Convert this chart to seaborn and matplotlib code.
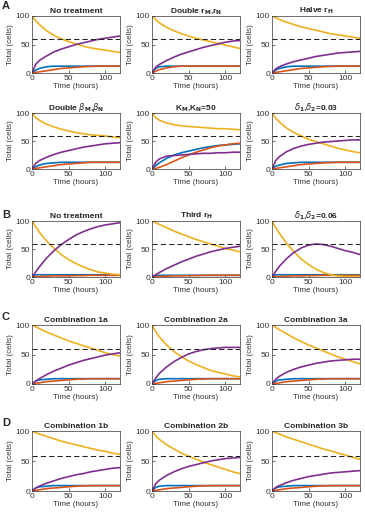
import numpy as np
import pandas as pd
import matplotlib
matplotlib.use("Agg")
import matplotlib.pyplot as plt
import seaborn as sns

t = [0, 5, 10, 20, 30, 40, 50, 60, 70, 80, 90, 100, 110, 120]

titles = [
    "No treatment", r"Double r$_\mathbf{M}$,r$_\mathbf{N}$", r"Halve r$_\mathbf{H}$",
    r"Double $\beta_\mathbf{M}$,$\beta_\mathbf{N}$", r"K$_\mathbf{M}$,K$_\mathbf{N}$=50",
    r"$\delta_\mathbf{1}$,$\delta_\mathbf{2}$=0.03",
    "No treatment", r"Third r$_\mathbf{H}$", r"$\delta_\mathbf{1}$,$\delta_\mathbf{2}$=0.06",
    "Combination 1a", "Combination 2a", "Combination 3a",
    "Combination 1b", "Combination 2b", "Combination 3b",
]

yellow = [
    [100, 92, 85, 74, 66, 60, 55, 51, 47, 44, 42, 40, 38, 36],
    [100, 94, 88, 80, 74, 69, 65, 61, 58, 55, 52, 49, 46, 43],
    [100, 97, 94, 89, 85, 81, 78, 75, 72, 69, 67, 65, 63, 61],
    [100, 92, 87, 80, 75, 71, 68, 65, 63, 61, 60, 59, 57, 56],
    [100, 92, 87, 82, 79, 77, 76, 75, 74, 73, 72, 72, 71, 70],
    [100, 91, 84, 73, 65, 59, 53, 49, 45, 41, 37, 34, 31, 29],
    [100, 90, 80, 64, 51, 40, 31, 24, 18, 13, 9, 7, 5, 4],
    [100, 97, 94, 88, 82, 77, 72, 67, 63, 59, 55, 51, 48, 45],
    [100, 88, 78, 60, 45, 32, 22, 14, 8, 4, 2, 1, 1, 0.5],
    [100, 97, 94, 88, 83, 78, 73, 69, 65, 61, 57, 53, 50, 47],
    [100, 89, 80, 66, 55, 46, 39, 33, 28, 23, 20, 17, 14, 12],
    [100, 96, 92, 85, 78, 72, 66, 61, 56, 51, 46, 42, 38, 34],
    [100, 97, 95, 91, 87, 83, 80, 77, 74, 71, 68, 66, 63, 61],
    [100, 92, 86, 77, 70, 63, 58, 53, 48, 44, 40, 36, 32, 29],
    [100, 97, 95, 90, 86, 82, 78, 74, 70, 67, 63, 60, 56, 53],
]

purple = [
    [0, 15, 22, 30, 37, 42, 46, 50, 53, 56, 59, 61, 63, 65],
    [0, 10, 15, 22, 28, 33, 37, 41, 45, 48, 51, 54, 56, 57],
    [0, 7, 11, 16, 20, 23, 26, 29, 31, 33, 35, 36, 37, 38],
    [0, 10, 15, 21, 26, 30, 33, 36, 39, 41, 43, 45, 46, 47],
    [0, 12, 18, 23, 24, 25, 26, 27, 28, 28, 29, 29, 30, 30],
    [0, 15, 22, 31, 37, 41, 44, 46, 48, 49, 50, 51, 52, 52],
    [0, 9, 18, 34, 47, 58, 67, 75, 81, 86, 90, 93, 95, 97],
    [0, 4, 8, 15, 21, 27, 32, 37, 41, 45, 48, 51, 53, 55],
    [0, 10, 19, 33, 44, 52, 57, 59, 58, 55, 51, 47, 44, 40],
    [0, 5, 9, 16, 22, 27, 32, 36, 40, 43, 46, 49, 51, 53],
    [0, 10, 18, 29, 38, 45, 51, 55, 58, 60, 61, 62, 62, 62],
    [0, 8, 13, 20, 25, 29, 32, 35, 37, 39, 40, 41, 42, 42],
    [0, 5, 8, 13, 17, 21, 24, 27, 29, 32, 34, 36, 38, 39],
    [0, 12, 18, 26, 32, 37, 41, 44, 47, 50, 52, 54, 55, 56],
    [0, 6, 9, 14, 18, 21, 24, 26, 28, 30, 31, 32, 33, 34],
]

blue = [
    [0, 5, 8, 11, 12, 12, 12, 12, 12, 12, 12, 12, 12, 12],
    [0, 8, 11, 12, 12, 12, 12, 12, 12, 12, 12, 12, 12, 12],
    [0, 5, 8, 11, 12, 12, 12, 12, 12, 12, 12, 12, 12, 12],
    [0, 4, 7, 10, 11, 12, 12, 12, 12, 12, 12, 12, 12, 12],
    [0, 6, 11, 19, 25, 29, 32, 35, 38, 40, 42, 43, 44, 45],
    [0, 5, 7, 10, 11, 12, 12, 12, 12, 12, 12, 12, 12, 12],
    [0, 4, 4, 4, 4, 4, 4, 4, 4, 4, 4, 4, 4, 4],
    [0, 3, 3, 3, 3, 3, 3, 3, 3, 3, 3, 3, 3, 3],
    [0, 4, 4, 4, 4, 4, 4, 4, 4, 4, 4, 4, 4, 4],
    [0, 5, 7, 8, 9, 9, 9, 9, 9, 9, 9, 9, 9, 9],
    [0, 6, 8, 9, 9, 9, 9, 9, 9, 9, 9, 9, 9, 9],
    [0, 5, 7, 8, 9, 9, 9, 9, 9, 9, 9, 9, 9, 9],
    [0, 5, 7, 8, 9, 9, 9, 9, 9, 9, 9, 9, 9, 9],
    [0, 6, 8, 9, 9, 9, 9, 9, 9, 9, 9, 9, 9, 9],
    [0, 5, 7, 8, 9, 9, 9, 9, 9, 9, 9, 9, 9, 9],
]

red = [
    [0, 1, 2, 4, 6, 8, 9, 10, 11, 11.5, 12, 12, 12, 12],
    [0, 3, 6, 9, 11, 12, 12, 12, 12, 12, 12, 12, 12, 12],
    [0, 1, 2, 4, 6, 8, 9, 10, 11, 11.5, 12, 12, 12, 12],
    [0, 1, 2, 4, 6, 8, 9, 10, 11, 12, 12, 12, 12, 12],
    [0, 1, 3, 8, 14, 20, 25, 30, 34, 38, 41, 43, 45, 46],
    [0, 1, 2, 4, 6, 8, 9, 10, 11, 11.5, 12, 12, 12, 12],
    [0, 0.5, 1, 1.5, 2, 2, 2, 2.5, 2.5, 3, 3, 3, 3, 3],
    [0, 0.5, 1, 1.5, 2, 2, 2.5, 2.5, 3, 3, 3, 3, 3, 3],
    [0, 0.5, 1, 1.5, 2, 2, 2.5, 2.5, 3, 3, 3, 3, 3, 3],
    [0, 1, 2, 4, 5, 6, 7, 8, 8.5, 9, 9, 9, 9, 9],
    [0, 1, 2, 4, 5, 6, 7, 8, 8.5, 9, 9, 9, 9, 9],
    [0, 1, 2, 4, 5, 6, 7, 8, 8.5, 9, 9, 9, 9, 9],
    [0, 1, 2, 4, 5, 6, 7, 8, 8.5, 9, 9, 9, 9, 9],
    [0, 1, 2, 4, 5, 6, 7, 8, 8.5, 9, 9, 9, 9, 9],
    [0, 1, 2, 4, 5, 6, 7, 8, 8.5, 9, 9, 9, 9, 9],
]

threshold = 59
panel_letters = ["A", "B", "C", "D"]

sns.set_style("white")
plt.rcParams['font.family'] = ['Liberation Sans', 'DejaVu Sans']
plt.rcParams['mathtext.fontset'] = 'dejavusans'
plt.rcParams['xtick.direction'] = 'in'
plt.rcParams['ytick.direction'] = 'in'

W, H = 365, 516
fig = plt.figure(figsize=(W / 100, H / 100), dpi=100)

# axes boxes in pixels: (top, bottom) per row, left per column
rows_px = [(16, 73), (113, 169), (221, 277), (325, 384), (431, 491)]
cols_px = [32, 152, 272]
ax_w = 88

colors = {"blue": "#0072BD", "red": "#D95319", "yellow": "#EDB120", "purple": "#7E2F8E"}

for i in range(15):
    r, c = divmod(i, 3)
    top, bot = rows_px[r]
    left = cols_px[c]
    ax = fig.add_axes([left / W, 1 - bot / H, ax_w / W, (bot - top) / H])

    df = pd.DataFrame({
        "t": t * 4,
        "cells": blue[i] + red[i] + yellow[i] + purple[i],
        "kind": ["blue"] * len(t) + ["red"] * len(t) + ["yellow"] * len(t) + ["purple"] * len(t),
    })
    sns.lineplot(data=df, x="t", y="cells", hue="kind", palette=colors,
                 ax=ax, linewidth=1.2, legend=False, sort=False)
    ax.axhline(threshold, color="#222222", ls=(0, (5, 3)), lw=0.75)

    ax.set_xlim(0, 120)
    ax.set_ylim(0, 100)
    ax.set_xticks([0, 50, 100])
    ax.set_yticks([0, 50, 100])
    ax.tick_params(axis='both', direction="in", length=2, width=0.5,
                   labelsize=6, colors="#333333", pad=1.5,
                   top=False, right=False, left=True, bottom=True)
    for s in ax.spines.values():
        s.set_linewidth(0.5)
        s.set_color("#333333")
    ax.set_xlabel("Time (hours)", fontsize=5.8, color="#333333", labelpad=1)
    ax.set_ylabel("Total (cells)", fontsize=5.8, color="#333333", labelpad=1)
    ax.set_title(titles[i], fontsize=6, fontweight="bold", pad=2.5)

letter_y = [6, 215, 317, 423]
for letter, y in zip(panel_letters, letter_y):
    fig.text(2 / W, 1 - y / H, letter, fontsize=8, fontweight="bold", va="center", ha="left")

fig.savefig("out.png", dpi=100)
